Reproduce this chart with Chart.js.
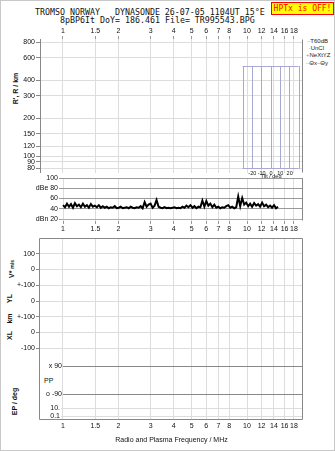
<!DOCTYPE html>
<html>
<head>
<meta charset="utf-8">
<script src="https://cdn.jsdelivr.net/npm/chart.js@4.4.0/dist/chart.umd.min.js"></script>
<style>
body { margin: 0; background: #fff; }
#page { position: relative; width: 333px; height: 449px; border: 1px solid #c8c8c8; overflow: hidden;
  font-family: "Liberation Sans", Arial, sans-serif; color: #111; }
canvas { position: absolute; }
.t { position: absolute; white-space: pre; line-height: 9px; font-size: 7px; }
.leg { position: absolute; white-space: pre; line-height: 8px; font-size: 6px; color: #222; }
.mono { font-family: "DejaVu Sans Mono", monospace; font-size: 8.3px; }
.rot { transform: rotate(-90deg); transform-origin: center; text-align: center; width: 60px; font-weight: bold; }
</style>
</head>
<body>
<div id="page">
  <div class="t mono" style="left:34px;top:7px;">TROMSO NORWAY   DYNASONDE 26-07-05 1104UT 15°E</div>
  <div class="t mono" style="left:59px;top:15px;">8pBP6It DoY= 186.461 File= TR995543.BPG</div>
  <div class="t mono" style="left:270px;top:1px;width:61px;height:11px;line-height:11px;text-align:center;background:#ffff00;border:1px solid #ff0000;color:#ff0000;font-size:8px;">HPTx is OFF!</div>

  <div class="leg" style="left:306px;top:36px;"><span style="color:#aaa">–</span>T60dB</div>
  <div class="leg" style="left:306px;top:43px;"><span style="color:#333"> ·</span>UnCl</div>
  <div class="leg" style="left:305px;top:50px;"><span style="color:#ff6699">+</span>NeXtYZ</div>
  <div class="leg" style="left:305px;top:58px;"><span style="color:#ff8888">–</span>Θx<span style="color:#6666ff">–</span>Θy</div>

  <div class="t rot" style="left:-16px;top:83px;">R', R / km</div>
  <div class="t rot" style="left:-19px;top:263px;">V* <span style="font-size:5px">m/s</span></div>
  <div class="t rot" style="left:-22px;top:293px;">YL</div>
  <div class="t rot" style="left:-22px;top:313px;">km</div>
  <div class="t rot" style="left:-22px;top:330px;">XL</div>
  <div class="t rot" style="left:-17px;top:396px;">EP / deg</div>
  <div class="t" style="left:43px;top:375px;">PP</div>

  <canvas id="top_chart" width="335" height="147" style="left:0;top:25px;"></canvas>
  <canvas id="tilt_chart" width="68" height="120" style="left:236px;top:62px;"></canvas>
  <canvas id="db_chart" width="335" height="66" style="left:0;top:170px;"></canvas>
  <canvas id="bottom_chart" width="335" height="219" style="left:0;top:232px;"></canvas>
</div>
<script>
// axis ticks
var freq_ticks = [1, 1.5, 2, 3, 4, 5, 6, 7, 8, 10, 12, 14, 16, 18];
var height_ticks = [80, 90, 100, 120, 150, 200, 300, 400, 600, 800];
var db_ticks = [20, 40, 60, 80, 100];
var db_labels = ['dBn 20', '40', '60', 'dBe 80', '100'];
var tilt_ticks = [-30, -20, -10, 0, 10, 20, 30];
var row_labels = ['100', '0', '+-100', '0', '+-100', '0', '-100', 'x 90', 'o -90', '10.', '0.1'];
var row_values = [1, 2, 3, 4, 5, 6, 7, 8.1, 9.9, 10.8, 11.3];

// noise trace (MHz, dB)
var noise_freq = [
  1.000, 1.025, 1.051, 1.078, 1.105, 1.133, 1.161, 1.190, 1.220, 1.251,
  1.283, 1.315, 1.348, 1.382, 1.417, 1.453, 1.489, 1.527, 1.565, 1.605,
  1.645, 1.687, 1.729, 1.773, 1.818, 1.864, 1.911, 1.959, 2.008, 2.059,
  2.111, 2.164, 2.219, 2.275, 2.332, 2.391, 2.451, 2.513, 2.577, 2.642,
  2.708, 2.777, 2.847, 2.918, 2.992, 3.068, 3.145, 3.224, 3.306, 3.389,
  3.475, 3.562, 3.652, 3.745, 3.839, 3.936, 4.035, 4.137, 4.242, 4.349,
  4.458, 4.571, 4.686, 4.804, 4.926, 5.050, 5.177, 5.308, 5.442, 5.579,
  5.720, 5.864, 6.012, 6.164, 6.319, 6.479, 6.642, 6.810, 6.982, 7.158,
  7.338, 7.524, 7.713, 7.908, 8.108, 8.312, 8.522, 8.737, 8.957, 9.183,
  9.415, 9.652, 9.896, 10.15, 10.40, 10.66, 10.93, 11.21, 11.49, 11.78,
  12.08, 12.38, 12.70, 13.02, 13.35, 13.68, 14.03, 14.38, 14.74
];
var noise_db = [
  47, 43, 50, 44, 49, 42, 51, 45, 48, 43, 50, 44, 47, 42, 49, 44, 46, 43, 47,
  42, 45, 42, 44, 41, 43, 42, 45, 41, 42, 44, 41, 42, 43, 41, 44, 42, 41, 43, 42, 45, 41,
  53, 44, 48, 50, 42, 46, 57, 44,
  42, 41, 43, 41, 42, 41, 42, 43, 41, 42, 41, 44, 42, 46, 43, 47, 42, 45, 41, 44, 43,
  56, 44, 55, 46, 50, 43, 48, 42, 44,
  41, 43, 42, 45, 47, 42, 44, 41, 43,
  64, 45, 61, 48,
  52, 45, 50, 44, 51, 46, 49, 44, 52, 45, 48, 43,
  46, 42, 47, 41, 44
];

Chart.defaults.font.family = '"Liberation Sans", Arial, sans-serif';
Chart.defaults.font.size = 7;
Chart.defaults.color = '#111';
Chart.defaults.animation = false;

// draws chosen sides of the chart area
var frame_plugin = {
  id: 'frame',
  afterDraw: function (chart, args, opts) {
    if (!opts.sides) return;
    var a = chart.chartArea, ctx = chart.ctx;
    ctx.save();
    ctx.strokeStyle = opts.color || '#888';
    ctx.lineWidth = 1;
    ctx.beginPath();
    var l = Math.round(a.left) - 0.5, r = Math.round(a.right) - 0.5;
    var t = Math.round(a.top) + 0.5, b = Math.round(a.bottom) - 0.5;
    if (opts.sides.indexOf('l') >= 0) { ctx.moveTo(l, t); ctx.lineTo(l, b); }
    if (opts.sides.indexOf('r') >= 0) { ctx.moveTo(r, t); ctx.lineTo(r, b); }
    if (opts.sides.indexOf('t') >= 0) { ctx.moveTo(l, t); ctx.lineTo(r, t); }
    if (opts.sides.indexOf('b') >= 0) { ctx.moveTo(l, b); ctx.lineTo(r, b); }
    ctx.stroke();
    ctx.restore();
  }
};

// lower rows of the bottom panel have their labels inside the box
var rows_plugin = {
  id: 'rows',
  beforeDatasetsDraw: function (chart) {
    var ctx = chart.ctx, a = chart.chartArea;
    var xs = chart.scales.x, ys = chart.scales.y;
    ctx.save();
    ctx.font = '7px "Liberation Sans", Arial, sans-serif';
    ctx.fillStyle = '#111';
    ctx.textBaseline = 'middle';
    ctx.textAlign = 'right';
    for (var i = 7; i < row_values.length; i++) {
      var y = Math.round(ys.getPixelForValue(row_values[i])) + 0.5;
      var x0 = Math.round(xs.getPixelForValue(i < 9 ? 1 : 0.975));
      ctx.strokeStyle = i < 9 ? '#888' : '#ddd';
      ctx.beginPath();
      ctx.moveTo(x0, y);
      ctx.lineTo(a.right, y);
      ctx.stroke();
      ctx.fillText(row_labels[i], x0 - 1, y);
    }
    ctx.restore();
  }
};

function fix_size(w, h) {
  return function (s) {
    if (w !== null) s.width = w;
    if (h !== null) s.height = h;
    s.paddingTop = 0; s.paddingBottom = 0; s.paddingLeft = 0; s.paddingRight = 0;
  };
}

function freq_axis(min, pos, show, h) {
  return {
    type: 'logarithmic',
    position: pos,
    min: min,
    max: 20.15,
    afterBuildTicks: function (s) {
      s.ticks = freq_ticks.map(function (v) { return { value: v }; });
    },
    afterFit: fix_size(null, h),
    ticks: {
      display: show,
      autoSkip: false,
      maxRotation: 0,
      padding: 1,
      callback: function (v) { return String(v); }
    },
    grid: { color: '#ddd', tickColor: '#999', tickLength: 3, drawTicks: show },
    border: { display: false }
  };
}

// top panel: virtual height
new Chart(document.getElementById('top_chart'), {
  type: 'scatter',
  data: { datasets: [{ data: [] }] },
  options: {
    responsive: false,
    layout: { autoPadding: false, padding: { left: 0, right: 33, top: 0, bottom: 0 } },
    plugins: { legend: { display: false }, tooltip: { enabled: false }, frame: { sides: 'r' } },
    scales: {
      x: freq_axis(0.75, 'top', true, 13),
      y: {
        type: 'logarithmic',
        min: 73.3,
        max: 849,
        afterBuildTicks: function (s) {
          s.ticks = height_ticks.map(function (v) { return { value: v }; });
        },
        afterFit: fix_size(39, null),
        ticks: { autoSkip: false, padding: 1, callback: function (v) { return String(v); } },
        grid: { color: '#ddd', tickColor: '#888', tickLength: 4 },
        border: { display: true, color: '#888' }
      }
    }
  },
  plugins: [frame_plugin]
});

// tilt inset
new Chart(document.getElementById('tilt_chart'), {
  type: 'scatter',
  data: { datasets: [{ data: [] }] },
  options: {
    responsive: false,
    layout: { autoPadding: false, padding: { left: 6, right: 6, top: 3, bottom: 0 } },
    plugins: { legend: { display: false }, tooltip: { enabled: false }, frame: { sides: 'tb', color: '#a8a8d0' } },
    scales: {
      x: {
        type: 'linear',
        min: -30,
        max: 30,
        afterBuildTicks: function (s) {
          s.ticks = tilt_ticks.map(function (v) { return { value: v }; });
        },
        afterFit: fix_size(null, 14),
        ticks: {
          autoSkip: false,
          maxRotation: 0,
          font: { size: 5.5 },
          padding: 1,
          callback: function (v) { return Math.abs(v) < 30 ? String(v) : ''; }
        },
        grid: { color: '#a8a8d0', drawTicks: false },
        border: { display: false },
        title: { display: true, text: 'Tilt / deg', font: { size: 5.5 }, padding: { top: 0, bottom: 3 } }
      },
      y: { display: false, min: 0, max: 1 }
    }
  },
  plugins: [frame_plugin]
});

// noise panel
new Chart(document.getElementById('db_chart'), {
  type: 'scatter',
  data: {
    datasets: [{
      data: noise_freq.map(function (f, i) { return { x: f, y: noise_db[i] }; }),
      showLine: true,
      borderColor: '#000',
      borderWidth: 2,
      pointRadius: 0
    }]
  },
  options: {
    responsive: false,
    layout: { autoPadding: false, padding: { left: 0, right: 33, top: 7, bottom: 0 } },
    plugins: { legend: { display: false }, tooltip: { enabled: false }, frame: { sides: 'r' } },
    scales: {
      x: freq_axis(0.975, 'bottom', true, 16),
      y: {
        type: 'linear',
        min: 16.1,
        max: 100,
        afterBuildTicks: function (s) {
          s.ticks = db_ticks.map(function (v) { return { value: v }; });
        },
        afterFit: fix_size(60, null),
        ticks: {
          autoSkip: false,
          padding: 1,
          callback: function (v) { return db_labels[db_ticks.indexOf(v)]; }
        },
        grid: {
          color: function (c) { return c.tick && c.tick.value === 20 ? '#a0a0ff' : '#999'; },
          tickColor: '#999',
          tickLength: 2
        },
        border: { display: false }
      }
    }
  },
  plugins: [frame_plugin]
});

// bottom panel: velocities, positions, polarisation
var bottom_x = freq_axis(0.75, 'bottom', true, 32);
bottom_x.grid.drawTicks = false;
bottom_x.ticks.padding = 2;
bottom_x.title = {
  display: true,
  text: 'Radio and Plasma Frequency / MHz',
  font: { size: 7 },
  padding: { top: 0, bottom: 8 }
};
new Chart(document.getElementById('bottom_chart'), {
  type: 'scatter',
  data: { datasets: [{ data: [] }] },
  options: {
    responsive: false,
    layout: { autoPadding: false, padding: { left: 0, right: 33, top: 5, bottom: 0 } },
    plugins: { legend: { display: false }, tooltip: { enabled: false }, frame: { sides: 'lrtb' } },
    scales: {
      x: bottom_x,
      y: {
        type: 'linear',
        reverse: true,
        min: 0,
        max: 11.55,
        afterBuildTicks: function (s) {
          s.ticks = row_values.map(function (v) { return { value: v }; });
        },
        afterFit: fix_size(39, null),
        ticks: {
          autoSkip: false,
          padding: 1,
          callback: function (v, i) { return i < 7 ? row_labels[i] : ''; }
        },
        grid: {
          color: function (c) { return c.index < 7 ? '#ddd' : 'rgba(0,0,0,0)'; },
          tickColor: function (c) { return c.index < 7 ? '#888' : 'rgba(0,0,0,0)'; },
          tickLength: 4
        },
        border: { display: false }
      }
    }
  },
  plugins: [frame_plugin, rows_plugin]
});
</script>
</body>
</html>
